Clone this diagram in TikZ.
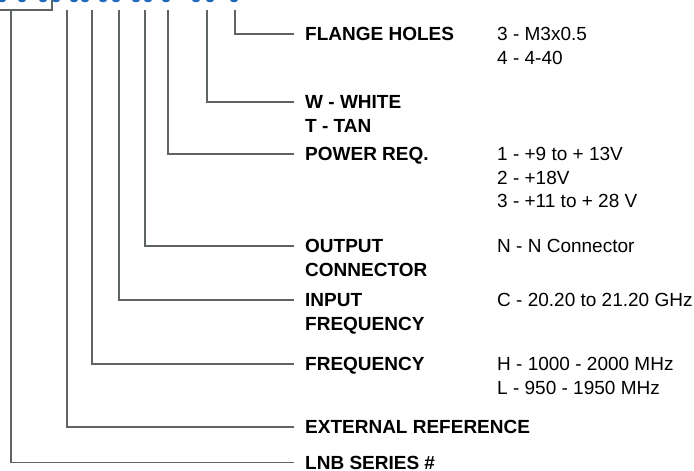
\documentclass[tikz,border=0pt]{standalone}
\usepackage{fontspec}
\setmainfont{Liberation Sans}
\definecolor{ln}{RGB}{95,100,100}
\definecolor{bl}{RGB}{35,105,190}
\begin{document}
\begin{tikzpicture}[x=1pt,y=-1pt,
  conn/.style={draw=ln,line width=1.4pt},
  lab/.style={anchor=base west,font=\fontsize{19}{23}\selectfont\bfseries,inner xsep=11pt,inner ysep=0pt,text height=13.6pt,text depth=0pt},
  val/.style={anchor=base west,font=\fontsize{19}{23}\selectfont,inner sep=0pt},
  frag/.style={fill=bl}]
\useasboundingbox (0,0) rectangle (694,471);
% cut-off blue title fragments
\foreach \fx in {2,22,43,56,74,85,103,116,136,148,166,196,210,234}
  \fill[frag] (\fx,-0.5) ellipse (4.2 and 2.8);
% box corner around first code
\draw[conn] (0,10) -- (52,10) -- (52,0);
% top ends of the connectors
\coordinate (t1) at (235,10);
\coordinate (t2) at (207,10);
\coordinate (t3) at (168,10);
\coordinate (t4) at (145,10);
\coordinate (t5) at (119,10);
\coordinate (t6) at (92,10);
\coordinate (t7) at (67,10);
\coordinate (t8) at (11,10);
% labels
\node[lab] (l1) at (294,40.8) {FLANGE HOLES};
\node[lab] (l2) at (294,108.8) {W - WHITE};
\node[lab] (l2b) at (294,132.3) {T - TAN};
\node[lab] (l3) at (294,160.8) {POWER REQ.};
\node[lab] (l4) at (294,252.8) {OUTPUT};
\node[lab] (l4b) at (294,276.3) {CONNECTOR};
\node[lab] (l5) at (294,306.8) {INPUT};
\node[lab] (l5b) at (294,330.3) {FREQUENCY};
\node[lab] (l6) at (294,370.8) {FREQUENCY};
\node[lab] (l7) at (294,433.8) {EXTERNAL REFERENCE};
\node[lab] (l8) at (294,469.4) {LNB SERIES \#};
% values
\node[val] (v1a) at (497,40.8) {3 - M3x0.5};
\node[val] (v1b) at (497,64.3) {4 - 4-40};
\node[val] (v3a) at (497,160.8) {1 - +9 to + 13V};
\node[val] (v3b) at (497,184.3) {2 - +18V};
\node[val] (v3c) at (497,207.8) {3 - +11 to + 28 V};
\node[val] (v4) at (497,252.8) {N - N Connector};
\node[val] (v5) at (497,306.8) {C - 20.20 to 21.20 GHz};
\node[val] (v6a) at (497,370.8) {H - 1000 - 2000 MHz};
\node[val] (v6b) at (497,394.3) {L - 950 - 1950 MHz};
% connectors
\draw[conn] (t1) |- (l1.west);
\draw[conn] (t2) |- (l2.west);
\draw[conn] (t3) |- (l3.west);
\draw[conn] (t4) |- (l4.west);
\draw[conn] (t5) |- (l5.west);
\draw[conn] (t6) |- (l6.west);
\draw[conn] (t7) |- (l7.west);
\draw[conn] (t8) |- (l8.west);
\end{tikzpicture}
\end{document}
